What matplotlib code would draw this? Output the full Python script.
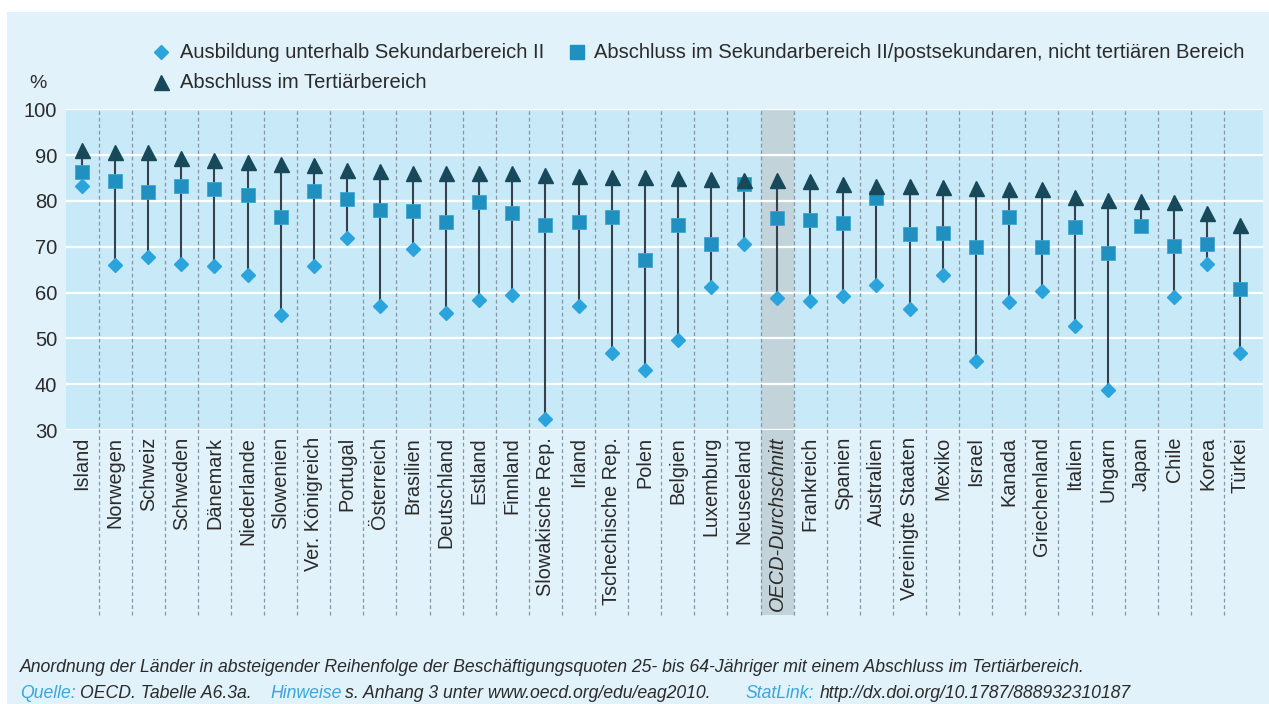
import numpy as np
import matplotlib
matplotlib.use('Agg')
import matplotlib.pyplot as plt
from matplotlib import font_manager
from matplotlib.lines import Line2D
from matplotlib.patches import Rectangle
import matplotlib.transforms as mtransforms

# ---------------- data ----------------
countries = ["Island", "Norwegen", "Schweiz", "Schweden", "Dänemark", "Niederlande",
             "Slowenien", "Ver. Königreich", "Portugal", "Österreich", "Brasilien",
             "Deutschland", "Estland", "Finnland", "Slowakische Rep.", "Irland",
             "Tschechische Rep.", "Polen", "Belgien", "Luxemburg", "Neuseeland",
             "OECD-Durchschnitt", "Frankreich", "Spanien", "Australien",
             "Vereinigte Staaten", "Mexiko", "Israel", "Kanada", "Griechenland",
             "Italien", "Ungarn", "Japan", "Chile", "Korea", "Türkei"]

unter_sek2 = [83.2, 66.1, 67.8, 66.3, 65.7, 63.8, 55.0, 65.7, 71.8, 57.1, 69.6,
              55.5, 58.4, 59.4, 32.5, 57.0, 46.7, 43.1, 49.6, 61.3, 70.6,
              58.9, 58.2, 59.2, 61.7, 56.4, 63.8, 45.0, 57.9, 60.4,
              52.6, 38.7, np.nan, 59.0, 66.3, 46.8]

sek2_post = [86.3, 84.3, 82.0, 83.2, 82.5, 81.4, 76.4, 82.2, 80.5, 78.1, 77.7,
             75.3, 79.7, 77.3, 74.8, 75.5, 76.6, 67.1, 74.7, 70.7, 83.6,
             76.2, 75.9, 75.1, 80.6, 72.8, 72.9, 70.0, 76.4, 69.9,
             74.3, 68.6, 74.5, 70.1, 70.6, 60.7]

tertiaer = [91.1, 90.7, 90.6, 89.3, 89.0, 88.4, 88.0, 87.9, 86.8, 86.6, 86.2,
            86.0, 86.0, 86.0, 85.7, 85.4, 85.2, 85.2, 84.9, 84.8, 84.6,
            84.6, 84.4, 83.8, 83.2, 83.2, 83.0, 82.9, 82.7, 82.7,
            80.8, 80.1, 80.0, 79.7, 77.3, 74.8]

yticks = [30, 40, 50, 60, 70, 80, 90, 100]
oecd_label = "OECD-Durchschnitt"

legend_labels = ["Ausbildung unterhalb Sekundarbereich II",
                 "Abschluss im Sekundarbereich II/postsekundaren, nicht tertiären Bereich",
                 "Abschluss im Tertiärbereich"]

# ---------------- style ----------------
names = {f.name for f in font_manager.fontManager.ttflist}
MAIN = 'Liberation Sans' if 'Liberation Sans' in names else 'DejaVu Sans'
NARROW = 'Liberation Sans Narrow' if 'Liberation Sans Narrow' in names else MAIN

PANEL = '#e1f2fa'
PLOTBG = '#c8e9f8'
GRAY = '#c3d3da'
C_DIA = '#2ba3dc'
C_SQ = '#1f90bf'
C_TRI = '#17495a'
C_LINE = '#33424c'
C_SEP = '#8398a4'
TEXT = '#2b2b2b'
LINK = '#3aa6dc'

W, H = 1269, 704
fig = plt.figure(figsize=(W / 100, H / 100), dpi=100, facecolor='white')
fig.add_artist(Rectangle((7 / W, 0), 1 - 7 / W, 1 - 12 / H, transform=fig.transFigure,
                         facecolor=PANEL, edgecolor='none', zorder=-10))

ax_left, ax_right, ax_top, ax_bottom = 65.5, 1263, 109.3, 430
ax = fig.add_axes([ax_left / W, 1 - ax_bottom / H, (ax_right - ax_left) / W,
                   (ax_bottom - ax_top) / H])
ax.set_facecolor(PLOTBG)
for s in ax.spines.values():
    s.set_visible(False)

x = np.arange(len(countries))
ax.set_xlim(-0.5, len(countries) - 0.5 + 0.18)
ax.set_ylim(30, 100)
ax.set_yticks(yticks)
ax.set_yticklabels([str(v) for v in yticks], fontsize=14.5, color=TEXT, family=MAIN)
ax.set_axisbelow(True)
ax.grid(axis='y', color='white', lw=1.6, zorder=0.5)
ax.tick_params(length=0)
ax.tick_params(axis='y', pad=6)
ax.tick_params(axis='x', pad=5)
ax.set_xticks(x)
ax.set_xticklabels(countries, rotation=90, fontsize=14.3, color=TEXT, family=MAIN)
for lab in ax.get_xticklabels():
    if lab.get_text() == oecd_label:
        lab.set_style('italic')

# separators and OECD shading extending below the axes
bottom_frac = (ax_bottom - 615) / (ax_bottom - ax_top)
trans = mtransforms.blended_transform_factory(ax.transData, ax.transAxes)
oi = countries.index(oecd_label)
ax.axvspan(oi - 0.5, oi + 0.5, ymin=bottom_frac, ymax=1, facecolor=GRAY,
           edgecolor='none', clip_on=False, zorder=0.3)
for b in x[:-1] + 0.5:
    ax.plot([b, b], [bottom_frac, 1], transform=trans, color=C_SEP, lw=0.9,
            dashes=(3, 2.2), clip_on=False, zorder=0.6)

# connector lines
low = np.where(np.isnan(np.array(unter_sek2, dtype=float)), sek2_post, unter_sek2)
ax.vlines(x, low, tertiaer, color=C_LINE, lw=1.5, zorder=2)

ax.plot(x, unter_sek2, linestyle='none', marker='D', ms=7.3, color=C_DIA,
        mec=C_DIA, zorder=3)
ax.plot(x, sek2_post, linestyle='none', marker='s', ms=9.6, color=C_SQ,
        mec='#3ea6d0', mew=0.6, zorder=4)
ax.plot(x, tertiaer, linestyle='none', marker='^', ms=10.8, color=C_TRI,
        mec=C_TRI, zorder=5)

# ---------------- legend (manual) ----------------
def fx(px):
    return px / W

def fy(py):
    return 1 - py / H

leg_items = [(161, 52, 'D', 7.3, C_DIA, legend_labels[0], 180),
             (577, 52, 's', 9.6, C_SQ, legend_labels[1], 594),
             (161, 82, '^', 10.8, C_TRI, legend_labels[2], 180)]
for mx, my, mk, ms, col, lab, tx in leg_items:
    fig.add_artist(Line2D([fx(mx)], [fy(my)], transform=fig.transFigure, marker=mk,
                          ms=ms, color=col, mec=col, linestyle='none'))
    fig.text(fx(tx), fy(my), lab, fontsize=14.5, family=NARROW, color=TEXT,
             ha='left', va='center')

fig.text(fx(38), fy(83), '%', fontsize=14, family=MAIN, color=TEXT,
         ha='center', va='center')

# ---------------- footer ----------------
foot_kw = dict(fontsize=12.7, family=NARROW, style='italic', va='center', ha='left')
fig.text(fx(20), fy(668), "Anordnung der Länder in absteigender Reihenfolge der "
         "Beschäftigungsquoten 25- bis 64-Jähriger mit einem Abschluss im Tertiärbereich.",
         color=TEXT, **foot_kw)
parts = [(20, "Quelle:", LINK), (80, "OECD. Tabelle A6.3a.", TEXT),
         (270, "Hinweise", LINK), (345, "s. Anhang 3 unter www.oecd.org/edu/eag2010.", TEXT),
         (746, "StatLink:", LINK), (820, "http://dx.doi.org/10.1787/888932310187", TEXT)]
for px, t, c in parts:
    fig.text(fx(px), fy(694), t, color=c, **foot_kw)

fig.savefig('out.png', dpi=100, facecolor=fig.get_facecolor())
